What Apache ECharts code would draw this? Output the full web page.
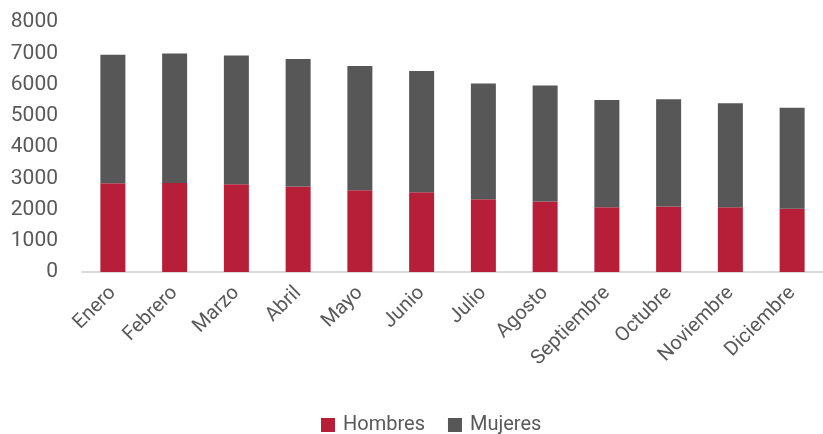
<!DOCTYPE html>
<html>
<head>
<meta charset="utf-8">
<script src="https://cdn.jsdelivr.net/npm/echarts@6/dist/echarts.min.js"></script>
<style>
  html, body { margin: 0; padding: 0; background: #fff; }
  #chart { width: 823px; height: 434px; }
</style>
</head>
<body>
<div id="chart"></div>
<script>
const meses = ['Enero', 'Febrero', 'Marzo', 'Abril', 'Mayo', 'Junio', 'Julio',
  'Agosto', 'Septiembre', 'Octubre', 'Noviembre', 'Diciembre']
const hombres = [2840, 2850, 2805, 2740, 2615, 2550, 2325, 2260, 2070, 2100, 2070, 2025]
const mujeres = [4110, 4140, 4120, 4075, 3980, 3880, 3710, 3710, 3435, 3425, 3330, 3230]

const labelColor = '#595959'
const font = 'Roboto, "Noto Sans", sans-serif'

const chart = echarts.init(document.getElementById('chart'))
chart.setOption({
  animation: false,
  textStyle: { fontFamily: font },
  grid: { left: 82, top: 22, width: 746, bottom: 162 },
  legend: {
    top: 410,
    left: 316,
    itemWidth: 14,
    itemHeight: 14,
    itemGap: 23,
    icon: 'rect',
    textStyle: { color: labelColor, fontSize: 20, fontFamily: font, padding: [0, 0, 0, 3] },
    data: ['Hombres', 'Mujeres']
  },
  xAxis: {
    type: 'category',
    data: meses,
    axisLine: { lineStyle: { color: '#d9d9d9', width: 2 } },
    axisTick: { show: false },
    axisLabel: {
      rotate: 45,
      interval: 0,
      margin: 18,
      color: labelColor,
      fontSize: 20,
      fontFamily: font
    }
  },
  yAxis: {
    type: 'value',
    min: 0,
    max: 8000,
    interval: 1000,
    splitLine: { show: false },
    axisLine: { show: false },
    axisTick: { show: false },
    axisLabel: {
      color: labelColor,
      fontSize: 21,
      fontFamily: font,
      margin: 24,
      formatter: (v) => String(v)
    }
  },
  series: [
    {
      name: 'Hombres',
      type: 'bar',
      stack: 'total',
      barWidth: 25,
      data: hombres,
      itemStyle: { color: '#b71f38' }
    },
    {
      name: 'Mujeres',
      type: 'bar',
      stack: 'total',
      barWidth: 25,
      data: mujeres,
      itemStyle: { color: '#575757' }
    }
  ]
})
</script>
</body>
</html>
